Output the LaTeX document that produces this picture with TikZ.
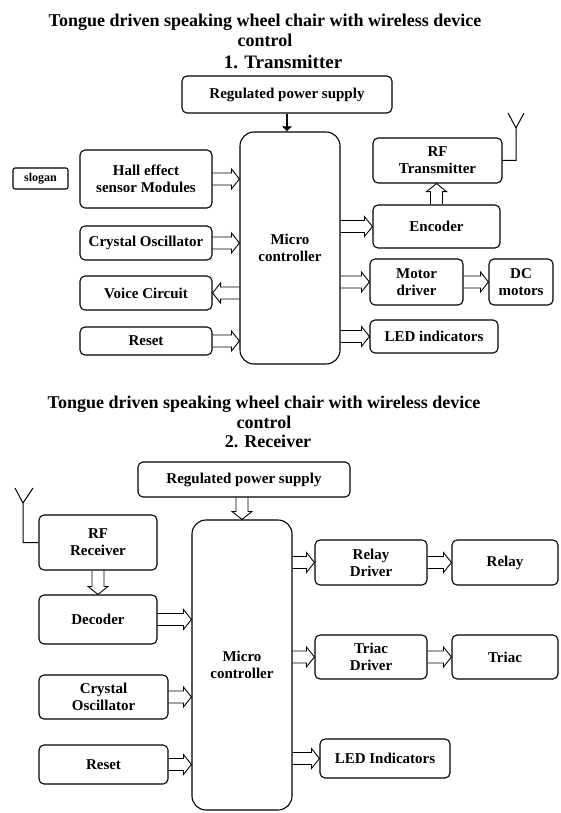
\documentclass[tikz,border=0pt]{standalone}
\usepackage{fontspec}
\setmainfont{Liberation Serif}
\usetikzlibrary{arrows.meta,positioning,calc}

\begin{document}
\begin{tikzpicture}[x=1pt,y=-1pt,
    blk/.style={draw,line width=1.1pt,rounded corners=5pt,align=center,inner sep=1pt,
      font=\fontsize{15}{17}\selectfont\bfseries},
    mcu/.style={blk,rounded corners=14pt},
    ttl/.style={align=center,font=\fontsize{18}{20}\selectfont\bfseries},
    % hollow block arrow from start to target
    harrow/.style={line width=0.9pt,line join=miter,
      to path={let \p1=(\tikztostart),\p2=(\tikztotarget),
        \n1={atan2(\y2-\y1,\x2-\x1)},\n2={veclen(\x2-\x1,\y2-\y1)} in
        ([shift={(\p1)},rotate=\n1]0pt,6pt) -- ([shift={(\p1)},rotate=\n1]\n2-8pt,6pt)
        -- ([shift={(\p1)},rotate=\n1]\n2-8pt,10pt) -- ([shift={(\p1)},rotate=\n1]\n2,0pt)
        -- ([shift={(\p1)},rotate=\n1]\n2-8pt,-10pt) -- ([shift={(\p1)},rotate=\n1]\n2-8pt,-6pt)
        -- ([shift={(\p1)},rotate=\n1]0pt,-6pt)}},
    aerial/.style={line width=1pt}]
    \useasboundingbox (0,0) rectangle (560,813);
    % 1. transmitter
    \node[ttl] (t1title) at (265,30) {Tongue driven speaking wheel chair with wireless device\\control};
    \node[ttl,font=\fontsize{19}{20}\selectfont\bfseries] (t1sub) at (283,62) {1. Transmitter};
    \node[blk,minimum width=210,minimum height=37] (trps) at (287,94.5) {Regulated power supply};
    \node[mcu,minimum width=100,minimum height=232] (tmcu) at (290,248) {Micro\\controller};
    \node[blk,rounded corners=2pt,minimum width=55,minimum height=21,
      font=\fontsize{12}{13}\selectfont\bfseries] (tslogan) at (40.5,178.5) {slogan};
    \node[blk,minimum width=132,minimum height=58] (thall) at (146,179) {Hall effect\\sensor Modules};
    \node[blk,minimum width=132,minimum height=34] (tosc) at (146,243) {Crystal Oscillator};
    \node[blk,minimum width=132,minimum height=34] (tvoice) at (146,293) {Voice Circuit};
    \node[blk,minimum width=132,minimum height=28] (treset) at (146,341) {Reset};
    \node[blk,minimum width=129,minimum height=45] (trf) at (437.5,160.5) {RF\\Transmitter};
    \node[blk,minimum width=127,minimum height=43] (tenc) at (436.5,226.5) {Encoder};
    \node[blk,minimum width=93,minimum height=46] (tmotor) at (416.5,282) {Motor\\driver};
    \node[blk,minimum width=64,minimum height=46] (tdc) at (521,282) {DC\\motors};
    \node[blk,minimum width=128,minimum height=33] (tled) at (434,336.5) {LED indicators};
    \draw[line width=1.2pt,-{Latex[width=11pt,length=5pt]}] (trps.south) -- (trps.south |- tmcu.north);
    \draw[harrow] (thall.east) to (thall.east -| tmcu.west);
    \draw[harrow] (tosc.east) to (tosc.east -| tmcu.west);
    \draw[harrow] (tvoice.east -| tmcu.west) to (tvoice.east);
    \draw[harrow] (treset.east) to (treset.east -| tmcu.west);
    \draw[harrow] (tenc.west -| tmcu.east) to (tenc.west);
    \draw[harrow] (tmotor.west -| tmcu.east) to (tmotor.west);
    \draw[harrow] (tled.west -| tmcu.east) to (tled.west);
    \draw[harrow] (tmotor.east) to (tdc.west);
    \draw[harrow] (tenc.north) to (tenc.north |- trf.south);
    % antenna
    \coordinate (tant) at (516,128);
    \draw[aerial] (trf.east) -| (tant) -- ++(-8,-15) (tant) -- ++(8,-15);

    % 2. receiver
    \node[ttl] (r2title) at (264,412.5) {Tongue driven speaking wheel chair with wireless device\\control};
    \node[ttl] (r2sub) at (268,441) {2. Receiver};
    \node[blk,minimum width=212,minimum height=35] (rrps) at (244,479.5) {Regulated power supply};
    \node[mcu,minimum width=100,minimum height=290] (rmcu) at (242,665) {Micro\\controller};
    \node[blk,minimum width=118,minimum height=55] (rrf) at (98,542.5) {RF\\Receiver};
    \node[blk,minimum width=118,minimum height=49] (rdec) at (98,619.5) {Decoder};
    \node[blk,minimum width=129,minimum height=44] (rosc) at (103.5,697) {Crystal\\Oscillator};
    \node[blk,minimum width=129,minimum height=39] (rreset) at (103.5,764.5) {Reset};
    \node[blk,minimum width=112,minimum height=45] (rrd) at (371,562.5) {Relay\\Driver};
    \node[blk,minimum width=106,minimum height=45] (rrelay) at (505,562.5) {Relay};
    \node[blk,minimum width=112,minimum height=44] (rtd) at (371,657) {Triac\\Driver};
    \node[blk,minimum width=106,minimum height=44] (rtriac) at (505,657) {Triac};
    \node[blk,minimum width=130,minimum height=39] (rled) at (385,758.5) {LED Indicators};
    \draw[harrow] (rrps.south -| rmcu.north) to (rmcu.north);
    \draw[harrow] (rrf.south) to (rdec.north);
    \draw[harrow] (rdec.east) to (rdec.east -| rmcu.west);
    \draw[harrow] (rosc.east) to (rosc.east -| rmcu.west);
    \draw[harrow] (rreset.east) to (rreset.east -| rmcu.west);
    \draw[harrow] (rrd.west -| rmcu.east) to (rrd.west);
    \draw[harrow] (rtd.west -| rmcu.east) to (rtd.west);
    \draw[harrow] (rled.west -| rmcu.east) to (rled.west);
    \draw[harrow] (rrd.east) to (rrelay.west);
    \draw[harrow] (rtd.east) to (rtriac.west);
    % antenna
    \coordinate (rant) at (23,503);
    \draw[aerial] (rrf.west) -| (rant) -- ++(-8,-15) (rant) -- ++(10,-15);
\end{tikzpicture}
\end{document}
